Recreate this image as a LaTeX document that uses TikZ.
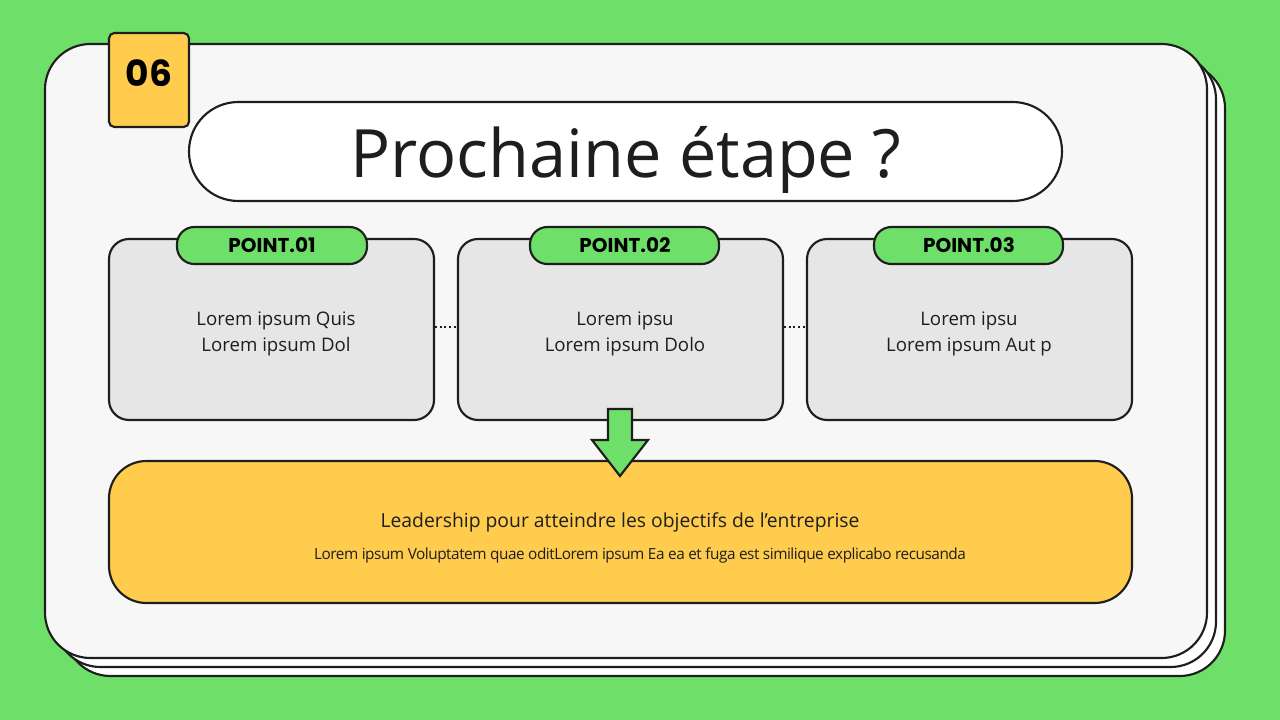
\documentclass[tikz,border=0pt]{standalone}
\usepackage{fontspec}
\setmainfont{Open Sans}
\newfontfamily\boldsans{Poppins}
\definecolor{bggreen}{RGB}{110,224,106}
\definecolor{cardfill}{RGB}{247,247,247}
\definecolor{boxgray}{RGB}{230,230,230}
\definecolor{ylw}{RGB}{255,204,77}
\definecolor{ink}{RGB}{30,30,30}
\definecolor{pillgreen}{RGB}{110,224,106}
\tikzset{
  outl/.style={draw=ink,line width=1.6pt},
  graybox/.style={outl,fill=boxgray,rounded corners=15pt},
  pill/.style={outl,fill=pillgreen,rounded corners=13pt},
  body/.style={text=ink,font=\fontsize{14}{20}\selectfont,align=center},
}
\begin{document}
\begin{tikzpicture}[x=0.75pt,y=-0.75pt]
\fill[bggreen] (0,0) rectangle (1280,720);
\useasboundingbox (0,0) rectangle (1280,720);
% stacked cards
\draw[outl,fill=white,rounded corners=34pt] (65,63) rectangle (1225,676);
\draw[outl,fill=white,rounded corners=34pt] (55,54) rectangle (1216,667);
\draw[outl,fill=cardfill,rounded corners=34pt] (45,44) rectangle (1207,658);
% badge
\draw[outl,fill=ylw,rounded corners=4pt] (109,33) rectangle (189,127);
\node (badge) at (149,73) {\boldsans\bfseries\fontsize{27}{30}\selectfont 06};
% title
\draw[outl,fill=white,rounded corners=37pt] (189,102) rectangle (1062,201);
\node[text=ink] (title) at (626,160) {\fontsize{50}{60}\selectfont Prochaine étape ?};
% boxes
\draw[graybox] (109,239) rectangle (434,420);
\draw[graybox] (458,239) rectangle (783,420);
\draw[graybox] (807,239) rectangle (1132,420);
\coordinate (d1a) at (435,327); \coordinate (d1b) at (457,327);
\coordinate (d2a) at (784,327); \coordinate (d2b) at (806,327);
\draw[ink,line width=1.5pt,dotted] (d1a) -- (d1b);
\draw[ink,line width=1.5pt,dotted] (d2a) -- (d2b);
\draw[pill] (177,227) rectangle (367,264);
\draw[pill] (530,227) rectangle (719,264);
\draw[pill] (874,227) rectangle (1063,264);
\node (p1) at (272,245) {\boldsans\bfseries\fontsize{15}{18}\selectfont POINT.01};
\node (p2) at (625,245) {\boldsans\bfseries\fontsize{15}{18}\selectfont POINT.02};
\node (p3) at (969,245) {\boldsans\bfseries\fontsize{15}{18}\selectfont POINT.03};
\node[body] (t1) at (276,334) {Lorem ipsum Quis\\Lorem ipsum Dol};
\node[body] (t2) at (625,334) {Lorem ipsu\\Lorem ipsum Dolo};
\node[body] (t3) at (969,334) {Lorem ipsu\\Lorem ipsum Aut p};
% yellow box
\draw[outl,fill=ylw,rounded corners=28pt] (109,461) rectangle (1132,603);
\node[text=ink] (l1) at (620,522) {\fontsize{14.5}{18}\selectfont Leadership pour atteindre les objectifs de l'entreprise};
\node[text=ink] (l2) at (640,555) {\fontsize{11.5}{14}\selectfont\addfontfeature{LetterSpace=-3} Lorem ipsum Voluptatem quae oditLorem ipsum Ea ea et fuga est similique explicabo recusanda};
% arrow
\draw[outl,fill=pillgreen,line join=miter] (608,409) -- (632,409) -- (632,440) -- (648,440) -- (620,476) -- (592,440) -- (608,440) -- cycle;
\end{tikzpicture}
\end{document}
